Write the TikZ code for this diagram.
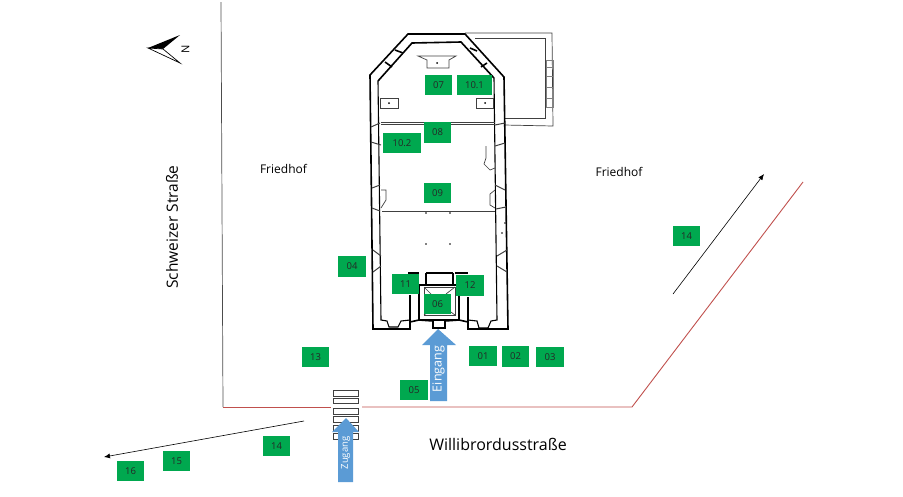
\documentclass[tikz,border=0pt]{standalone}
\usepackage{fontspec}
\setmainfont{Open Sans}
\usetikzlibrary{arrows.meta}
\definecolor{boxgreen}{HTML}{00A84F}
\definecolor{arrowblue}{HTML}{5B9BD5}
\definecolor{roadred}{HTML}{C0504D}
\tikzset{
  nr/.style={fill=boxgreen, text=black!85, minimum width=27.5pt, minimum height=20.5pt, inner sep=0pt, font=\fontsize{9.5}{11}\selectfont},
  wall/.style={line width=1.6pt, line join=miter},
  thinwall/.style={line width=.7pt, black!75},
  lbl/.style={inner sep=0pt, font=\fontsize{12}{14}\selectfont},
  crossing/.style={draw=black!75, fill=white, line width=.7pt, minimum width=25pt, minimum height=5.5pt, inner sep=0pt},
  flow/.style={-{Latex[length=6pt,width=5pt]}, black, line width=.6pt}
}
\begin{document}
\begin{tikzpicture}[x=1pt, y=-1pt]
  \useasboundingbox (0,0) rectangle (903,496);

  \coordinate (roadNW) at (221,2);
  \coordinate (roadC) at (223,407);
  \coordinate (gapL) at (331,407);
  \coordinate (gapR) at (362,407);
  \coordinate (roadS) at (632,407);
  \coordinate (roadE) at (803,182);
  \draw[black!70, line width=.7pt] (roadNW) -- (roadC);
  \draw[roadred, line width=.9pt] (roadC) -- (gapL);
  \draw[roadred, line width=.9pt] (gapR) -- (roadS) -- (roadE);

  % annex
  \draw[thinwall] (465,33) -- (552,33) -- (553,126) -- (504,125);
  \draw[thinwall] (475,38) -- (545,38) -- (545,118) -- (504,118);
  \draw[thinwall, black!50] (546,60) rectangle (553,67) (546,67) rectangle (553,76) (546,76) rectangle (553,87) (546,87) rectangle (553,98) (546,98) rectangle (553,107);

  % church walls
  \draw[wall] (373,329) -- (370,75) -- (408,34) -- (465,34) -- (504,77) -- (508,329) -- (468,329) -- (468,322)
    -- (459,320) -- (445,321) -- (445,328) -- (433,328) -- (433,321) -- (419,320) -- (410,322) -- (410,329) -- cycle;
  \draw[wall] (410,322) -- (410,295) (468,322) -- (468,297);
  \draw[wall] (378,81) -- (412,43) -- (461,42) -- (494,78);
  \draw[line width=1.1pt] (378,81) -- (381,320) -- (387,321) -- (389,327) -- (398,327) -- (401,321) -- (410,320);
  \draw[line width=1.1pt] (494,78) -- (497,320) -- (491,321) -- (488,328) -- (479,328) -- (477,321) -- (468,320);
  \draw[wall] (419,285) rectangle (459,320);
  \draw[thinwall] (424,287) rectangle (455,315);
  \draw[thinwall] (424,287) -- (431,294) (455,287) -- (446,294) (424,315) -- (431,310) (455,315) -- (448,310);
  \draw[wall] (408,273) -- (419,273) (455,273) -- (468,273);
  \draw[wall] (426,273) -- (426,285) (453,273) -- (453,285) (426,273) -- (453,273);

  % cross walls
  \draw[thinwall] (381,122) -- (495,122) (381,124) -- (495,124);
  \draw[thinwall] (382,211) -- (495,211);

  % wall ticks
  \draw[wall] (395,50) -- (403,53) (385,62) -- (392,67) (470,48) -- (477,51) (487,63) -- (481,67);
  \draw[thinwall, line width=1pt] (371,127) -- (380,123) (371,142) -- (381,145) (372,188) -- (380,185) (372,208) -- (380,211);
  \draw[thinwall, line width=1pt] (373,250) -- (381,256) (373,272) -- (381,266);
  \draw[thinwall, line width=1pt] (495,125) -- (505,123) (495,146) -- (505,143) (495,185) -- (505,190) (496,209) -- (506,207);
  \draw[thinwall, line width=1pt] (497,256) -- (507,250) (497,266) -- (507,272);

  % inner fittings
  \draw[thinwall] (418,56) -- (456,56) -- (449,60) -- (449,68) -- (427,68) -- (427,60) -- cycle;
  \fill (437,63) circle (1pt);
  \draw[thinwall] (380,98) rectangle (398,108);
  \fill (389,103) circle (1pt);
  \draw[thinwall] (476,98) rectangle (493,108);
  \fill (485,103) circle (1pt);
  \draw[thinwall] (486,146) -- (486,158) -- (484,164) -- (490,170) -- (495,168);
  \draw[thinwall] (381,190) -- (386,190) -- (386,200) -- (381,208);
  \draw[thinwall] (495,190) -- (490,194) -- (490,205) -- (495,208);
  \foreach \px/\py in {426/213, 450/213, 426/244, 450/244, 505/223, 502/233}
    \fill (\px,\py) circle (.9pt);

  % crossing
  \foreach \py in {393.5, 401, 411.5, 419.5, 428.5, 436.5}
    \node[crossing] (c\py) at (345.5,\py) {};

  % blue arrows
  \fill[arrowblue] (438,329) -- (456,345) -- (447,345) -- (447,401) -- (430,401) -- (430,345) -- (422,345) -- cycle;
  \node[rotate=90, text=white, font=\fontsize{12.5}{14}\selectfont, inner sep=0pt] (eingang) at (438.5,369) {Eingang};
  \fill[arrowblue] (346,418) -- (359,432) -- (353,432) -- (353,482) -- (338,482) -- (338,432) -- (332,432) -- cycle;
  \node[rotate=90, text=white, font=\fontsize{9.5}{11}\selectfont, inner sep=0pt] (zugang) at (345.5,453) {Zugang};

  % direction arrows
  \coordinate (ostart) at (673,294);
  \coordinate (oend) at (764,174);
  \coordinate (wstart) at (304,421);
  \coordinate (wend) at (104,457);
  \draw[flow] (ostart) -- (oend);
  \draw[flow] (wstart) -- (wend);

  % labels
  \node[lbl] (friedL) at (283.5,169) {Friedhof};
  \node[lbl] (friedR) at (619,172) {Friedhof};
  \node[lbl, rotate=90, font=\fontsize{15.5}{18}\selectfont] (schweizer) at (172,227) {Schweizer Straße};
  \node[lbl, font=\fontsize{16}{18}\selectfont] (willi) at (498,444) {Willibrordusstraße};

  % north sign
  \fill[black] (148,48) -- (180,35) -- (163,49) -- cycle;
  \draw[black, fill=white, line width=.7pt] (148,48) -- (180,63) -- (163,49) -- cycle;
  \node[rotate=90, inner sep=0pt, font=\fontsize{11}{13}\selectfont] (north) at (185.5,49) {N};

  % numbers
  \node[nr] (n07) at (438.5,85) {07};
  \node[nr, minimum width=35pt] (n101) at (474.5,85) {10.1};
  \node[nr] (n08) at (437.5,132.5) {08};
  \node[nr, minimum width=38pt] (n102) at (402,143) {10.2};
  \node[nr] (n09) at (437.5,193) {09};
  \node[nr] (n04) at (352,266.5) {04};
  \node[nr] (n11) at (405.5,284) {11};
  \node[nr] (n12) at (470,285.5) {12};
  \node[nr] (n06) at (437.5,304) {06};
  \node[nr] (n01) at (483,356) {01};
  \node[nr] (n02) at (515.5,356.5) {02};
  \node[nr] (n03) at (550,357) {03};
  \node[nr] (n05) at (414,390) {05};
  \node[nr] (n13) at (315.5,357) {13};
  \node[nr] (n14a) at (686.5,236) {14};
  \node[nr] (n14b) at (276.5,446) {14};
  \node[nr] (n15) at (176.5,461) {15};
  \node[nr] (n16) at (130.5,471) {16};
\end{tikzpicture}
\end{document}
